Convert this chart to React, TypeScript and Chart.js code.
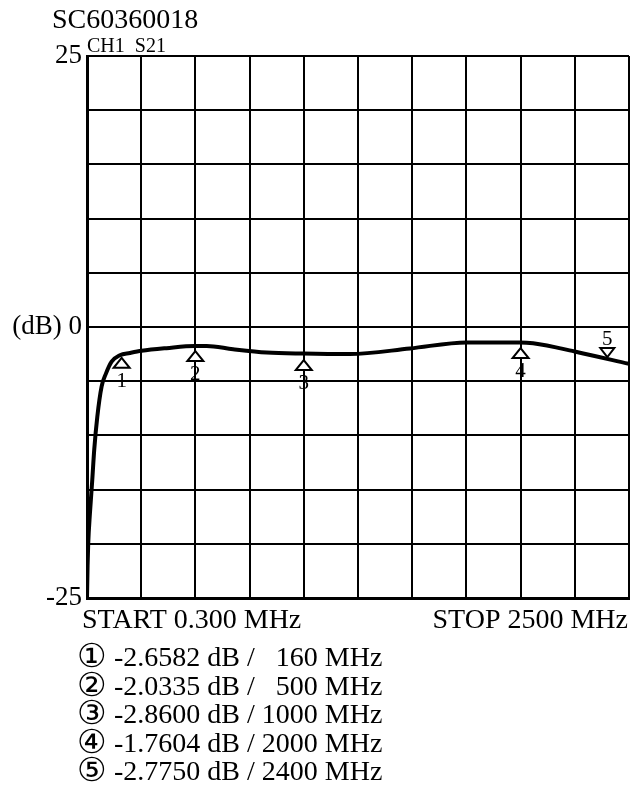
import React, { useEffect, useRef } from "react";
import { Chart, registerables } from "chart.js";

Chart.register(...registerables);

// Trace S21 (frequency in MHz, magnitude in dB)
const freqMHz = [0.3, 3, 6, 13.8, 24.6, 33.7, 47.7, 67.6, 87.6, 113.8, 152, 198, 252, 367, 498, 552, 674, 829, 997, 1213, 1490, 1751, 1997, 2058, 2259, 2500];
const s21dB = [-25, -22, -19.95, -17.2, -14.1, -11.3, -8.3, -5.5, -4.3, -3.2, -2.6, -2.4, -2.2, -1.95, -1.75, -1.75, -2.05, -2.35, -2.45, -2.5, -1.98, -1.42, -1.42, -1.5, -2.3, -3.4];

// Markers
const markerNames = ["1", "2", "3", "4", "5"];
const markerCircled = ["①", "②", "③", "④", "⑤"];
const markerFreq = [160, 500, 1000, 2000, 2400];
const markerDb = [-2.6582, -2.0335, -2.86, -1.7604, -2.775];
const markerPointsDown = [false, false, false, false, true];

// Axis
const xStart = 0.3;
const xStop = 2500;
const xDivisions = 10;
const yMin = -25;
const yMax = 25;
const yStep = 5;
const yTickLabels: Record<string, string> = { "25": "25", "0": "(dB) 0", "-25": "-25" };

const titleText = "SC60360018";
const channelText = "CH1  S21";
const startText = "START 0.300 MHz";
const stopText = "STOP 2500 MHz";

const SERIF = "'Liberation Serif', 'Times New Roman', serif";

const textPlugin = {
  id: "analyzerText",
  afterDraw(chart: any) {
    const { ctx, chartArea, scales } = chart;
    ctx.save();
    ctx.fillStyle = "#000";
    ctx.textBaseline = "alphabetic";
    ctx.font = `28px ${SERIF}`;
    ctx.textAlign = "left";
    ctx.fillText(titleText, chartArea.left - 35, chartArea.top - 28);
    ctx.font = `20px ${SERIF}`;
    ctx.fillText(channelText, chartArea.left, chartArea.top - 4);
    ctx.font = `28px ${SERIF}`;
    ctx.fillText(startText, chartArea.left - 5, chartArea.bottom + 30);
    ctx.textAlign = "right";
    ctx.fillText(stopText, chartArea.right - 1, chartArea.bottom + 30);

    // markers
    const xs = scales.x;
    const ys = scales.y;
    ctx.lineWidth = 2;
    ctx.strokeStyle = "#000";
    ctx.font = `21px ${SERIF}`;
    ctx.textAlign = "center";
    markerFreq.forEach((f, i) => {
      const px = xs.getPixelForValue(f);
      const py = ys.getPixelForValue(markerDb[i]);
      ctx.beginPath();
      if (!markerPointsDown[i]) {
        const apex = py + 2;
        ctx.moveTo(px, apex);
        ctx.lineTo(px - 8, apex + 10);
        ctx.lineTo(px + 8, apex + 10);
        ctx.closePath();
        ctx.fillStyle = "#fff";
        ctx.fill();
        ctx.stroke();
        ctx.fillStyle = "#000";
        ctx.textBaseline = "top";
        ctx.fillText(markerNames[i], px, apex + 13);
      } else {
        const apex = py;
        ctx.moveTo(px, apex);
        ctx.lineTo(px - 7, apex - 9);
        ctx.lineTo(px + 7, apex - 9);
        ctx.closePath();
        ctx.fillStyle = "#fff";
        ctx.fill();
        ctx.stroke();
        ctx.fillStyle = "#000";
        ctx.textBaseline = "alphabetic";
        ctx.fillText(markerNames[i], px, apex - 12);
      }
    });
    ctx.restore();
  },
};

function ChartCanvas() {
  const ref = useRef<HTMLCanvasElement | null>(null);
  useEffect(() => {
    if (!ref.current) return;
    const chart = new Chart(ref.current, {
      type: "line",
      data: {
        datasets: [
          {
            data: freqMHz.map((f, i) => ({ x: f, y: s21dB[i] })),
            borderColor: "#000",
            borderWidth: 4,
            pointRadius: 0,
            cubicInterpolationMode: "monotone",
            fill: false,
          },
        ],
      },
      options: {
        animation: false,
        responsive: false,
        maintainAspectRatio: false,
        events: [],
        layout: { padding: { top: 56, right: 15, bottom: 197, left: 0 } },
        plugins: { legend: { display: false }, tooltip: { enabled: false }, title: { display: false } },
        scales: {
          x: {
            type: "linear",
            min: xStart,
            max: xStop,
            afterBuildTicks: (scale: any) => {
              const t = [];
              for (let i = 0; i <= xDivisions; i++) t.push({ value: xStart + ((xStop - xStart) * i) / xDivisions });
              scale.ticks = t;
            },
            ticks: { display: false },
            grid: { color: "#000", lineWidth: 2, drawTicks: false },
            border: { color: "#000", width: 3 },
          },
          y: {
            type: "linear",
            min: yMin,
            max: yMax,
            afterFit: (scale: any) => {
              scale.width = 87;
            },
            ticks: {
              stepSize: yStep,
              padding: 5,
              color: "#000",
              font: { family: SERIF, size: 27 },
              callback: (v: any) => yTickLabels[String(v)] ?? "",
            },
            grid: { color: "#000", lineWidth: 2, drawTicks: false },
            border: { color: "#000", width: 3 },
          },
        },
      },
      plugins: [textPlugin],
    } as any);
    return () => chart.destroy();
  }, []);
  return <canvas ref={ref} width={644} height={795} style={{ display: "block", width: 644, height: 795 }} />;
}

export default function App() {
  return (
    <div style={{ position: "fixed", left: 0, top: 0, width: 644, height: 795, background: "#fff" }}>
      <ChartCanvas />
      <div
        style={{
          position: "absolute",
          left: 77,
          top: 643,
          fontFamily: SERIF,
          fontSize: 28,
          lineHeight: "28.5px",
          color: "#000",
          whiteSpace: "pre",
        }}
      >
        {markerFreq.map((f, i) => (
          <div key={i} style={{ height: 28.5, position: "relative" }}>
            <span
              style={{
                position: "absolute",
                left: 0,
                top: -1,
                fontFamily: "'DejaVu Sans', sans-serif",
                fontSize: 33,
                lineHeight: "28.5px",
              }}
            >
              {markerCircled[i]}
            </span>
            <span style={{ display: "inline-block", width: 30 }}></span>
            {` ${markerDb[i].toFixed(4)} dB / `}
            <span style={{ display: "inline-block", width: 56, textAlign: "right" }}>{String(f)}</span>
            {" MHz"}
          </div>
        ))}
      </div>
    </div>
  );
}
